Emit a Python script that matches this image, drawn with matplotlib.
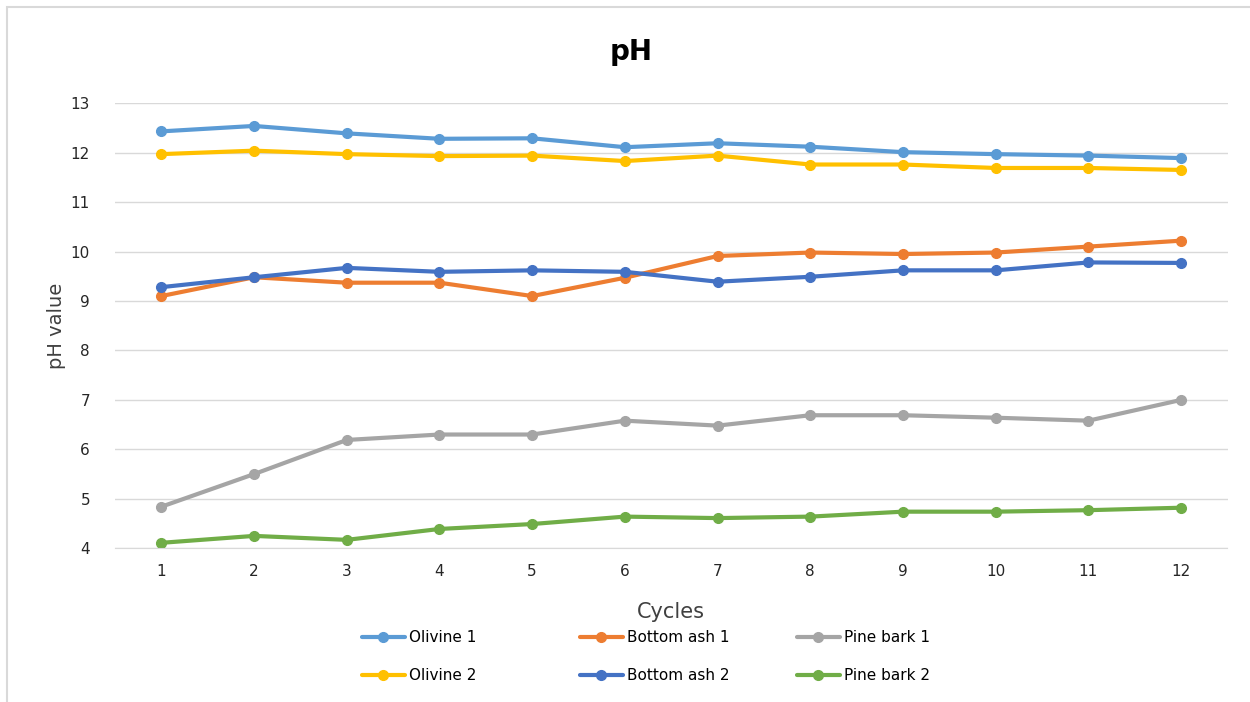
import matplotlib
matplotlib.use("Agg")
import matplotlib.pyplot as plt
from matplotlib.patches import Rectangle

plt.rcParams['font.family'] = ['DejaVu Sans']

cycles = list(range(1, 13))
olivine_1 = [12.43, 12.54, 12.39, 12.28, 12.29, 12.11, 12.19, 12.12, 12.01, 11.97, 11.94, 11.89]
olivine_2 = [11.97, 12.04, 11.97, 11.93, 11.94, 11.83, 11.94, 11.76, 11.76, 11.69, 11.69, 11.65]
bottom_ash_1 = [9.10, 9.48, 9.37, 9.37, 9.10, 9.47, 9.91, 9.98, 9.95, 9.98, 10.10, 10.22]
bottom_ash_2 = [9.28, 9.48, 9.67, 9.59, 9.62, 9.59, 9.39, 9.49, 9.62, 9.62, 9.78, 9.77]
pine_bark_1 = [4.84, 5.50, 6.19, 6.30, 6.30, 6.58, 6.48, 6.69, 6.69, 6.64, 6.58, 7.00]
pine_bark_2 = [4.11, 4.25, 4.17, 4.39, 4.49, 4.64, 4.61, 4.64, 4.74, 4.74, 4.77, 4.82]
y_ticks = [4, 5, 6, 7, 8, 9, 10, 11, 12, 13]

series = [
    ("Olivine 1", olivine_1, "#5B9BD5"),
    ("Olivine 2", olivine_2, "#FFC000"),
    ("Bottom ash 1", bottom_ash_1, "#ED7D31"),
    ("Bottom ash 2", bottom_ash_2, "#4472C4"),
    ("Pine bark 1", pine_bark_1, "#A5A5A5"),
    ("Pine bark 2", pine_bark_2, "#70AD47"),
]

fig = plt.figure(figsize=(12.5, 7.02), dpi=100)
ax = fig.add_axes([0.092, 0.219, 0.890, 0.634])

# chart frame
fig.patches.append(Rectangle((7 / 1250, -0.1), 1.2, 1.1 - 7 / 702,
                             transform=fig.transFigure, fill=False,
                             edgecolor="#D9D9D9", linewidth=1.5))

lines = []
for name, vals, color in series:
    ln, = ax.plot(cycles, vals, color=color, linewidth=3, marker="o",
                  markersize=7, label=name, solid_capstyle="round")
    lines.append(ln)

ax.set_xlim(0.5, 12.5)
ax.set_ylim(4, 13)
ax.set_yticks(y_ticks)
ax.set_xticks(cycles)
ax.tick_params(axis="both", length=0, labelsize=11)
ax.tick_params(axis="x", pad=11)
ax.tick_params(axis="y", pad=18)
for lbl in ax.get_xticklabels() + ax.get_yticklabels():
    lbl.set_color("#262626")
ax.grid(axis="y", color="#D9D9D9", linewidth=1)
ax.set_axisbelow(True)
for side in ["top", "right", "left"]:
    ax.spines[side].set_visible(False)
ax.spines["bottom"].set_color("#D9D9D9")

fig.text(0.505, 1 - 52 / 702, "pH", fontsize=20, fontweight="bold",
         ha="center", va="center")
ax.set_xlabel("Cycles", fontsize=15, color="#404040", labelpad=17)
ax.set_ylabel("pH value", fontsize=14, color="#404040", labelpad=3)

# legend laid out as three evenly spaced columns
col_x = [362 / 1250, 580 / 1250, 797 / 1250]
for i, x0 in enumerate(col_x):
    pair = lines[2 * i:2 * i + 2]
    fig.legend(handles=pair, labels=[l.get_label() for l in pair],
               loc="upper left", bbox_to_anchor=(x0, 0.102),
               frameon=False, fontsize=11, handlelength=2.8,
               handletextpad=0.3, labelspacing=1.5, borderpad=0,
               borderaxespad=0)

fig.savefig("out.png", dpi=100, facecolor="white")
